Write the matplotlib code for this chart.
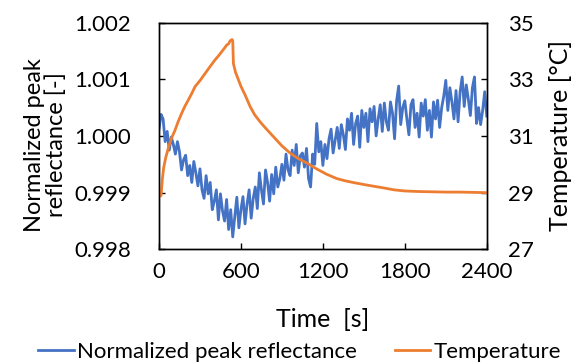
import matplotlib
matplotlib.use("Agg")
import numpy as np
from matplotlib import pyplot as plt

plt.rcParams['font.family'] = ['Lato', 'DejaVu Sans']

# reflectance sampled every 15 s
refl_time = np.arange(0, 2401, 15)
refl = [
    1.00012, 1.00038, 1.00030, 0.99990, 1.00008, 0.99975, 0.99998, 0.99985, 0.99968, 0.99990,
    0.99972, 0.99940, 0.99958, 0.99966, 0.99930, 0.99948, 0.99918, 0.99955, 0.99935, 0.99912,
    0.99942, 0.99905, 0.99890, 0.99930, 0.99898, 0.99918, 0.99870, 0.99885, 0.99905, 0.99852,
    0.99898, 0.99868, 0.99850, 0.99888, 0.99835, 0.99870, 0.99822, 0.99858, 0.99892, 0.99838,
    0.99870, 0.99893, 0.99845, 0.99880, 0.99905, 0.99855, 0.99890, 0.99910, 0.99872, 0.99935,
    0.99905, 0.99880, 0.99940, 0.99918, 0.99885, 0.99932, 0.99898, 0.99945, 0.99910, 0.99925,
    0.99950, 0.99922, 0.99968, 0.99940, 0.99930, 0.99975, 0.99948, 0.99985, 0.99935, 0.99965,
    0.99970, 0.99945, 0.99978, 0.99925, 0.99910, 0.99968, 0.99950, 1.00022, 0.99972, 0.99990,
    0.99948, 0.99985, 0.99960, 0.99995, 1.00012, 0.99970, 0.99992, 1.00015, 0.99978, 1.00020,
    1.00002, 0.99976, 1.00030, 1.00010, 1.00040, 0.99985, 1.00022, 1.00035, 0.99980, 1.00045,
    1.00015, 1.00040, 0.99990, 1.00048, 1.00025, 1.00052, 1.00000, 1.00030, 1.00055, 1.00008,
    1.00058, 1.00025, 1.00010, 1.00060, 1.00040, 0.99995, 1.00062, 1.00088, 1.00020, 1.00050,
    1.00062, 1.00030, 1.00002, 1.00055, 1.00064, 1.00015, 1.00040, 0.99998, 1.00058, 1.00035,
    1.00064, 1.00010, 1.00045, 0.99998, 1.00060, 1.00030, 1.00063, 1.00015, 1.00050, 1.00070,
    1.00098, 1.00045, 1.00085, 1.00060, 1.00030, 1.00080, 1.00025, 1.00078, 1.00104, 1.00052,
    1.00090, 1.00065, 1.00036, 1.00085, 1.00104, 1.00022, 1.00050, 1.00020, 1.00045, 1.00078,
    1.00035,
]

temp_time = [0, 15, 25, 35, 50, 70, 90, 117, 140, 166, 190, 215, 240, 264, 300, 337, 370,
             410, 435, 459, 480, 495, 510, 520, 535, 540, 545, 560, 600, 630, 666, 700, 740,
             776, 837, 900, 959, 1020, 1081, 1150, 1227, 1300, 1361, 1430, 1508, 1580, 1654,
             1720, 1800, 1900, 2000, 2100, 2200, 2300, 2400]
temp = [28.85, 28.9, 29.5, 29.9, 30.25, 30.6, 30.9, 31.2, 31.5, 31.8, 32.05, 32.27, 32.5,
        32.74, 32.95, 33.2, 33.42, 33.68, 33.82, 33.97, 34.1, 34.2, 34.25, 34.35, 34.4, 34.35,
        33.55, 33.25, 32.75, 32.45, 32.05, 31.75, 31.5, 31.3, 30.98, 30.65, 30.4, 30.2, 30.05,
        29.85, 29.65, 29.5, 29.42, 29.35, 29.28, 29.22, 29.16, 29.1, 29.06, 29.04, 29.03,
        29.02, 29.02, 29.01, 29.0]

x_ticks = [0, 600, 1200, 1800, 2400]
y1_ticks = [0.998, 0.999, 1.000, 1.001, 1.002]
y2_ticks = [27, 29, 31, 33, 35]

fig = plt.figure(figsize=(5.74, 3.63), dpi=100)
ax = fig.add_axes([0.277, 0.313, 0.571, 0.625])
ax2 = ax.twinx()

l1, = ax.plot(refl_time, refl, color='#4472C4', lw=2.0, label='Normalized peak reflectance')
l2, = ax2.plot(temp_time, temp, color='#ED7D31', lw=2.0, label='Temperature')

ax.set_xlim(0, 2400)
ax.set_ylim(0.998, 1.002)
ax2.set_ylim(27, 35)
ax.set_xticks(x_ticks)
ax.set_yticks(y1_ticks)
ax.set_yticklabels([f'{v:.3f}' for v in y1_ticks])
ax2.set_yticks(y2_ticks)

for a in (ax, ax2):
    a.tick_params(direction='in', length=4, width=1, labelsize=16)
    for s in a.spines.values():
        s.set_linewidth(1.0)
ax.tick_params(axis='y', pad=20)
ax.tick_params(axis='x', pad=9)
ax2.tick_params(axis='y', pad=15)

ax.set_xlabel('Time  [s]', fontsize=18)
ax.xaxis.set_label_coords(0.5, -0.26)
ax.set_ylabel('Normalized peak\nreflectance [-]', fontsize=17, linespacing=1.05)
ax.yaxis.set_label_coords(-0.28, 0.46)
ax2.set_ylabel('Temperature [°C]', fontsize=18)
ax2.yaxis.set_label_coords(1.19, 0.5)

fig.legend(handles=[l1, l2], loc='center', bbox_to_anchor=(0.522, 0.03), ncol=2,
           frameon=False, fontsize=16, handlelength=1.6, handletextpad=0.15,
           columnspacing=1.7, borderpad=0)

fig.savefig('out.png', dpi=100)
